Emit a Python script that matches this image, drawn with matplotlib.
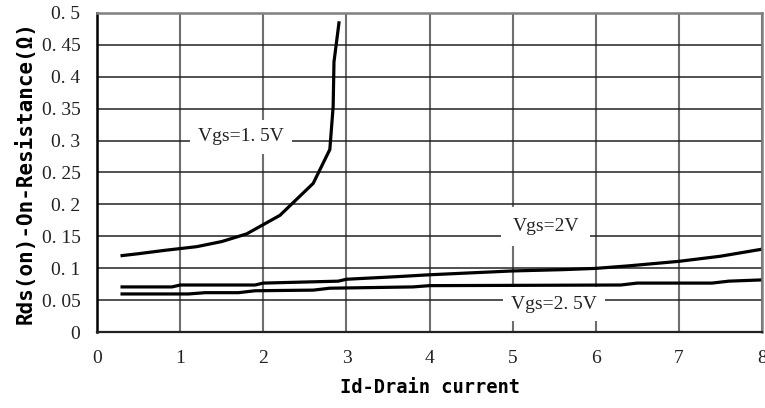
import numpy as np
import matplotlib.pyplot as plt

# Vgs = 1.5V curve
id_15 = [0.3, 0.5, 0.8, 1.0, 1.2, 1.5, 1.8, 2.2, 2.6, 2.8, 2.84, 2.85, 2.91]
rds_15 = [0.120, 0.123, 0.128, 0.131, 0.134, 0.142, 0.154, 0.183, 0.233, 0.286, 0.353, 0.423, 0.484]

# Vgs = 2V curve
id_20 = [0.3, 0.9, 1.0, 1.9, 2.0, 2.9, 3.0, 3.6, 4.0, 5.0, 5.6, 6.0, 6.4, 7.0, 7.5, 8.0]
rds_20 = [0.071, 0.071, 0.074, 0.074, 0.077, 0.080, 0.083, 0.087, 0.090, 0.096, 0.098, 0.100, 0.104, 0.111, 0.119, 0.130]

# Vgs = 2.5V curve
id_25 = [0.3, 1.1, 1.3, 1.7, 1.9, 2.6, 2.8, 3.8, 4.0, 6.3, 6.5, 7.4, 7.6, 8.0]
rds_25 = [0.060, 0.060, 0.062, 0.062, 0.065, 0.066, 0.069, 0.071, 0.073, 0.074, 0.077, 0.077, 0.080, 0.082]

xticks = [0, 1, 2, 3, 4, 5, 6, 7, 8]
yticks = [0, 0.05, 0.1, 0.15, 0.2, 0.25, 0.3, 0.35, 0.4, 0.45, 0.5]
ytick_labels = ['0', '0. 05', '0. 1', '0. 15', '0. 2', '0. 25', '0. 3', '0. 35', '0. 4', '0. 45', '0. 5']

fig = plt.figure(figsize=(7.65, 4.08), dpi=100)
ax = fig.add_axes([0.127, 0.1855, 0.869, 0.7835])

ax.set_xlim(0, 8)
ax.set_ylim(0, 0.5)

ax.set_xticks(xticks)
ax.set_yticks(yticks)
ax.set_yticklabels(ytick_labels)
ax.tick_params(axis='y', length=0, labelsize=14, pad=12)
ax.tick_params(axis='x', length=0, labelsize=14, pad=13)
for lab in ax.get_xticklabels() + ax.get_yticklabels():
    lab.set_family('Liberation Serif')
    lab.set_color('#222222')

ax.xaxis.grid(True, color='#6e6e6e', linewidth=1.5)
ax.yaxis.grid(True, color='#222222', linewidth=1.1)
ax.set_axisbelow(True)

ax.spines['left'].set_color('black')
ax.spines['left'].set_linewidth(1.8)
ax.spines['bottom'].set_color('#222222')
ax.spines['bottom'].set_linewidth(1.6)
ax.spines['top'].set_color('#808080')
ax.spines['top'].set_linewidth(1.8)
ax.spines['right'].set_color('#808080')
ax.spines['right'].set_linewidth(1.8)

ax.plot(id_15, rds_15, color='black', linewidth=2.3)
ax.plot(id_20, rds_20, color='black', linewidth=2.3)
ax.plot(id_25, rds_25, color='black', linewidth=2.3)

box = dict(facecolor='white', edgecolor='none', pad=6)
ax.text(1.73, 0.306, 'Vgs=1. 5V', family='Liberation Serif', fontsize=14,
        ha='center', va='center', color='#222222', bbox=box)
ax.text(5.4, 0.165, 'Vgs=2V', family='Liberation Serif', fontsize=14,
        ha='center', va='center', color='#222222',
        bbox=dict(facecolor='white', edgecolor='none', pad=8))
ax.text(5.5, 0.044, 'Vgs=2. 5V', family='Liberation Serif', fontsize=14,
        ha='center', va='center', color='#222222', bbox=box)

ax.set_xlabel('Id-Drain current', family='DejaVu Sans Mono', fontweight='bold',
              fontsize=13.5, labelpad=8)
ax.set_ylabel('Rds(on)-On-Resistance(Ω)', family='DejaVu Sans Mono', fontweight='bold',
              fontsize=15, labelpad=4)

fig.savefig('out.png', dpi=100)
